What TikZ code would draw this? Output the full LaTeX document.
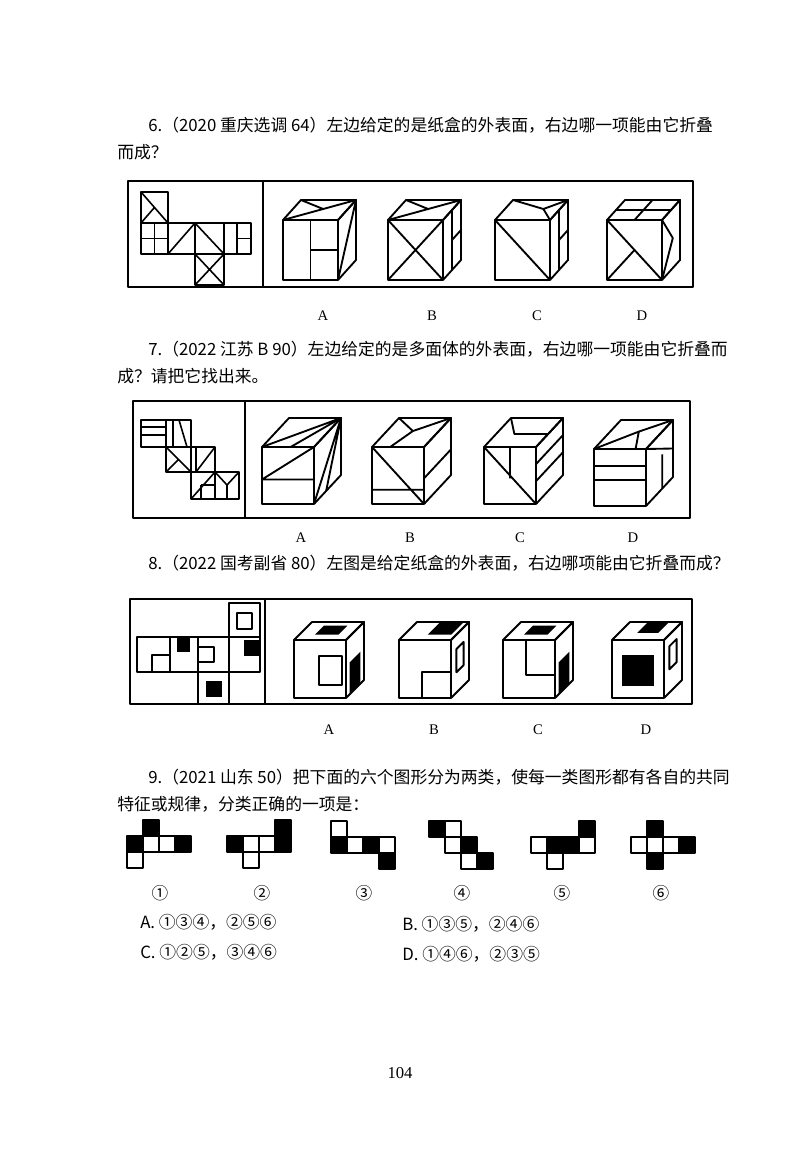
\documentclass[tikz,border=0pt]{standalone}
\usepackage{fontspec}
\setmainfont{Liberation Serif}
\newfontfamily\cjk{Noto Sans CJK SC}
\begin{document}
\begin{tikzpicture}[x=0.75pt,y=-0.75pt,line join=round,
  fr/.style={x={(\cw,0)},y={(0,\ch)}},
  tp/.style={y={(\cdx,-\cdy)},x={(\cw,0)}},
  sd/.style={shift={(\cw,0)},x={(\cdx,-\cdy)},y={(0,\ch)}},
  cl/.style={line width=1.4pt},
  frame/.style={line width=1.1pt},
  txt/.style={anchor=west,inner sep=0pt,font=\cjk\fontsize{12.6pt}{14pt}\selectfont},
  lab/.style={inner sep=0pt,font=\fontsize{11pt}{13pt}\selectfont},
  wc/.style={draw,line width=1.2pt,fill=white},
  bc/.style={draw,line width=1.2pt,fill=black}]
\fill[white] (0,0) rectangle (800,1156);
\useasboundingbox (0,0) rectangle (800,1156);
\newcommand\cubebox{%
  \begin{scope}[fr]\draw[cl] (0,0) rectangle (1,1);\end{scope}%
  \begin{scope}[tp]\draw[cl] (0,0)--(0,1)--(1,1)--(1,0);\end{scope}%
  \begin{scope}[sd]\draw[cl] (0,0)--(1,0)--(1,1)--(0,1);\end{scope}}
% ---------- Q6
\node[txt] (t6a) at (148,125) {6.（2020 重庆选调 64）左边给定的是纸盒的外表面，右边哪一项能由它折叠};
\node[txt] (t6b) at (117,152) {而成？};
\draw[frame] (128,181) rectangle (693,287);
\draw[frame] (263,181)--(263,287);
\begin{scope}[line width=1.2pt]
 \draw (141,192) rectangle (168,223);
 \draw (141,192)--(168,223) (141,223)--(154,208);
 \draw (141,223) rectangle (168,254) (154.5,223)--(154.5,254) (141,238.5)--(168,238.5);
 \draw (168,223) rectangle (195,254) (168,254)--(195,223);
 \draw (195,223) rectangle (224,254) (195,223)--(224,254);
 \draw (224,223) rectangle (251,254) (237,223)--(237,254) (237,238.5)--(251,238.5);
 \draw (195,254) rectangle (224,285) (195,254)--(224,285) (195,285)--(224,254);
\end{scope}
\def\cw{55}\def\ch{60}\def\cdx{18}\def\cdy{20}
% A
\begin{scope}[shift={(283,220)}]
 \cubebox
 \begin{scope}[tp]\draw[cl] (0,0)--(1,1) (0,1)--(0.55,0.55);\end{scope}
 \begin{scope}[fr]\draw[cl] (0.5,0)--(0.5,1) (0.5,0.5)--(1,0.5);\end{scope}
 \begin{scope}[sd]\draw[cl] (0,1)--(1,0);\end{scope}
\end{scope}
% B
\begin{scope}[shift={(388,220)}]
 \cubebox
 \begin{scope}[tp]\draw[cl] (0,0)--(1,1) (0,1)--(0.55,0.55);\end{scope}
 \begin{scope}[fr]\draw[cl] (0,0)--(1,1) (0,1)--(1,0);\end{scope}
 \begin{scope}[sd]\draw[cl] (0.5,0)--(0.5,1) (0.5,0.5)--(1,0.5);\end{scope}
\end{scope}
% C
\begin{scope}[shift={(495,220)}]
 \cubebox
 \begin{scope}[tp]\draw[cl] (0,1)--(0.7,0.55)--(1,1) (0.7,0.55)--(1,0);\end{scope}
 \begin{scope}[fr]\draw[cl] (0,0)--(1,1);\end{scope}
 \begin{scope}[sd]\draw[cl] (0.5,0)--(0.5,1) (0.5,0.5)--(1,0.5);\end{scope}
\end{scope}
% D
\begin{scope}[shift={(607,220)}]
 \cubebox
 \begin{scope}[tp]\draw[cl] (0.5,0)--(0.5,1) (0,0.5)--(1,0.5);\end{scope}
 \begin{scope}[fr]\draw[cl] (0,0)--(1,1) (0,1)--(0.5,0.5);\end{scope}
 \begin{scope}[sd]\draw[cl] (0,0)--(0.6,0.5)--(0,1);\end{scope}
\end{scope}
\node[lab] (l6a) at (323,316) {A};
\node[lab] (l6b) at (432,316) {B};
\node[lab] (l6c) at (537,316) {C};
\node[lab] (l6d) at (642,316) {D};
% ---------- Q7
\node[txt] (t7a) at (148,349) {7.（2022 江苏 B 90）左边给定的是多面体的外表面，右边哪一项能由它折叠而};
\node[txt] (t7b) at (117,376) {成？请把它找出来。};
\draw[frame] (133,401) rectangle (690,518);
\draw[frame] (245,401)--(245,518);
\begin{scope}[line width=1.2pt]
 \draw (141,420) rectangle (166,447) (141,427)--(166,427) (141,435)--(166,435);
 \draw (166,420) rectangle (191,447) (173,420)--(173,447) (179,420)--(187,447);
 \draw (166,447) rectangle (191,472) (166,447)--(191,472) (166,472)--(178,460);
 \draw (191,447) rectangle (215,472) (196,447)--(196,472) (196,472)--(215,447);
 \draw (191,472) rectangle (215,499) (191,499)--(215,472) (201,485)--(201,499) (201,485)--(215,485);
 \draw (215,472) rectangle (239,499) (215,472)--(227,485)--(239,472) (227,485)--(227,499);
\end{scope}
\def\cw{52}\def\ch{57}\def\cdx{27}\def\cdy{29}
\begin{scope}[shift={(262,447)}]
 \cubebox
 \begin{scope}[tp]\draw[cl] (1,1)--(0,0) (1,1)--(0.55,0);\end{scope}
 \begin{scope}[fr]\draw[cl] (0,0.57)--(1,0) (0,0.57)--(1,0.57);\end{scope}
 \begin{scope}[sd]\draw[cl] (1,0)--(0,1) (1,0)--(0.45,1);\end{scope}
\end{scope}
\begin{scope}[shift={(372,447)}]
 \cubebox
 \begin{scope}[tp]\draw[cl] (0,1)--(0.5,0.55)--(1,1) (0.5,0.55)--(0.35,0);\end{scope}
 \begin{scope}[fr]\draw[cl] (0,0)--(1,1) (0,0.75)--(1,0.75);\end{scope}
 \begin{scope}[sd]\draw[cl] (0,0.55)--(1,0.55);\end{scope}
\end{scope}
\begin{scope}[shift={(484,447)}]
 \cubebox
 \begin{scope}[tp]\draw[cl] (0,1)--(0.35,0.45)--(1,0.45);\end{scope}
 \begin{scope}[fr]\draw[cl] (0,0)--(1,1) (0.5,0)--(0.5,0.55);\end{scope}
 \begin{scope}[sd]\draw[cl] (0,0.3)--(1,0.3) (0,0.6)--(1,0.6);\end{scope}
\end{scope}
\begin{scope}[shift={(594,449)}]
 \cubebox
 \begin{scope}[tp]\draw[cl] (0,0)--(0.55,0.6)--(1,1) (0.55,0.6)--(0.8,0);\end{scope}
 \begin{scope}[fr]\draw[cl] (0,0.3)--(1,0.3) (0,0.55)--(1,0.55);\end{scope}
 \begin{scope}[sd]\draw[cl] (0,0)--(1,0.5) (0.6,0.4)--(0.6,1);\end{scope}
\end{scope}
\node[lab] (l7a) at (301,538) {A};
\node[lab] (l7b) at (410,538) {B};
\node[lab] (l7c) at (520,538) {C};
\node[lab] (l7d) at (633,538) {D};
% ---------- Q8
\node[txt] (t8a) at (148,563) {8.（2022 国考副省 80）左图是给定纸盒的外表面，右边哪项能由它折叠而成？};
\draw[frame] (130,599) rectangle (692,704);
\draw[frame] (265,599)--(265,704);
\begin{scope}[line width=1.2pt]
 \draw (137,637) rectangle (260,672) (170,637)--(170,672) (198,637)--(198,672) (229,637)--(229,672);
 \draw (229,603) rectangle (260,637) (198,672) rectangle (229,704);
 \draw (152,672)--(152,655)--(170,655);
 \fill (177,637) rectangle (190,652);
 \draw (198,647)--(214,647)--(214,662)--(198,662);
 \fill (244,640) rectangle (260,656);
 \draw (237,613) rectangle (252,629);
 \fill (206,681) rectangle (222,697);
\end{scope}
\def\cw{52}\def\ch{58}\def\cdx{18}\def\cdy{18}
\begin{scope}[shift={(294,640)}]
 \cubebox
 \begin{scope}[tp]\fill (0.3,0.3)--(0.75,0.3)--(0.75,0.8)--(0.3,0.8)--cycle;\end{scope}
 \begin{scope}[fr]\draw[cl] (0.48,0.28) rectangle (0.93,0.78);\end{scope}
 \begin{scope}[sd]\fill (0.2,0.45)--(0.8,0.45)--(0.8,1)--(0.2,1)--cycle;\end{scope}
\end{scope}
\begin{scope}[shift={(399,640)}]
 \cubebox
 \begin{scope}[tp]\fill (0.45,0.3)--(0.9,0.3)--(0.9,1)--(0.45,1)--cycle;\end{scope}
 \begin{scope}[fr]\draw[cl] (0.45,1)--(0.45,0.55)--(1,0.55);\end{scope}
 \begin{scope}[sd]\draw[cl] (0.3,0.25)--(0.7,0.25)--(0.7,0.65)--(0.3,0.65)--cycle;\end{scope}
\end{scope}
\begin{scope}[shift={(503,640)}]
 \cubebox
 \begin{scope}[tp]\fill (0.3,0.3)--(0.75,0.3)--(0.75,0.8)--(0.3,0.8)--cycle;\end{scope}
 \begin{scope}[fr]\draw[cl] (0.45,0)--(0.45,0.6)--(1,0.6);\end{scope}
 \begin{scope}[sd]\fill (0.2,0.45)--(0.8,0.45)--(0.8,1)--(0.2,1)--cycle;\end{scope}
\end{scope}
\begin{scope}[shift={(612,640)}]
 \cubebox
 \begin{scope}[tp]\fill (0.35,0.4)--(0.75,0.4)--(0.75,1)--(0.35,1)--cycle;\end{scope}
 \begin{scope}[fr]\fill (0.2,0.25) rectangle (0.8,0.8);\end{scope}
 \begin{scope}[sd]\draw[cl] (0.3,0.2)--(0.7,0.2)--(0.7,0.6)--(0.3,0.6)--cycle;\end{scope}
\end{scope}
\node[lab] (l8a) at (329,730) {A};
\node[lab] (l8b) at (434,730) {B};
\node[lab] (l8c) at (538,730) {C};
\node[lab] (l8d) at (646,730) {D};
% ---------- Q9
\node[txt] (t9a) at (148,777) {9.（2021 山东 50）把下面的六个图形分为两类，使每一类图形都有各自的共同};
\node[txt] (t9b) at (117,804) {特征或规律，分类正确的一项是：};
\def\s{16}
\newcommand\sqw[4]{\draw[wc] ({#1+#3*\s},{#2+#4*\s}) rectangle ++(\s,\s);}
\newcommand\sqb[4]{\draw[bc] ({#1+#3*\s},{#2+#4*\s}) rectangle ++(\s,\s);}
\sqb{127}{820}{1}{0}\sqb{127}{820}{0}{1}\sqw{127}{820}{1}{1}\sqw{127}{820}{2}{1}\sqb{127}{820}{3}{1}\sqw{127}{820}{0}{2}
\sqb{227}{820}{3}{0}\sqb{227}{820}{0}{1}\sqw{227}{820}{1}{1}\sqw{227}{820}{2}{1}\sqb{227}{820}{3}{1}\sqw{227}{820}{1}{2}
\sqw{331}{821}{0}{0}\sqb{331}{821}{0}{1}\sqw{331}{821}{1}{1}\sqb{331}{821}{2}{1}\sqw{331}{821}{3}{1}\sqb{331}{821}{3}{2}
\sqb{429}{821}{0}{0}\sqw{429}{821}{1}{0}\sqw{429}{821}{1}{1}\sqb{429}{821}{2}{1}\sqw{429}{821}{2}{2}\sqb{429}{821}{3}{2}
\sqb{531}{821}{3}{0}\sqw{531}{821}{0}{1}\sqb{531}{821}{1}{1}\sqb{531}{821}{2}{1}\sqw{531}{821}{3}{1}\sqw{531}{821}{1}{2}
\sqb{631}{821}{1}{0}\sqw{631}{821}{0}{1}\sqw{631}{821}{1}{1}\sqw{631}{821}{2}{1}\sqb{631}{821}{3}{1}\sqb{631}{821}{1}{2}
\node[lab,font=\fontsize{12.5pt}{13pt}\cjk] (c1) at (160,893) {①};
\node[lab,font=\fontsize{12.5pt}{13pt}\cjk] (c2) at (262,893) {②};
\node[lab,font=\fontsize{12.5pt}{13pt}\cjk] (c3) at (364,893) {③};
\node[lab,font=\fontsize{12.5pt}{13pt}\cjk] (c4) at (462,893) {④};
\node[lab,font=\fontsize{12.5pt}{13pt}\cjk] (c5) at (562,893) {⑤};
\node[lab,font=\fontsize{12.5pt}{13pt}\cjk] (c6) at (661,893) {⑥};
\node[txt] (oa) at (140,922) {A. ①③④，②⑤⑥};
\node[txt] (ob) at (402,924) {B. ①③⑤，②④⑥};
\node[txt] (oc) at (140,952) {C. ①②⑤，③④⑥};
\node[txt] (od) at (402,954) {D. ①④⑥，②③⑤};
\node[lab,font=\fontsize{12.5pt}{14pt}\selectfont] (pg) at (400,1073) {104};
\end{tikzpicture}
\end{document}
